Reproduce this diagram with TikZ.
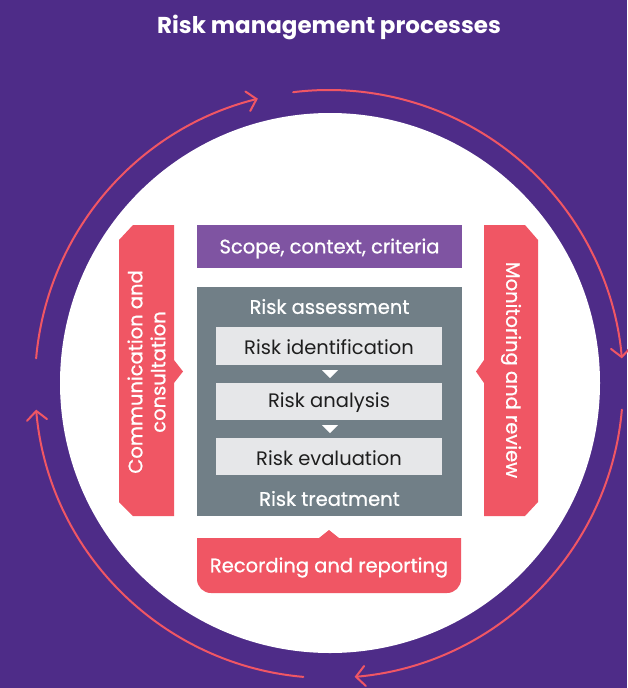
\documentclass[tikz,border=0pt]{standalone}
\usepackage{fontspec}
\setmainfont{Poppins}
\newfontfamily\medfont[FakeBold=0.8]{Poppins}
\usetikzlibrary{arrows.meta}
\definecolor{bgpurple}{RGB}{78,44,136}
\definecolor{scopepurple}{RGB}{127,84,162}
\definecolor{riskgray}{RGB}{113,127,135}
\definecolor{stepgray}{RGB}{230,231,233}
\definecolor{coral}{RGB}{240,86,100}
\definecolor{darktext}{RGB}{30,30,30}
\tikzset{
  ring/.style={coral,line width=2pt,line cap=round,-{Straight Barb[length=9pt,width=20pt,line cap=round]}},
  label/.style={text=white,font=\medfont\fontsize{19.5}{23}\selectfont,inner sep=0pt},
  steptext/.style={text=darktext,font=\fontsize{19.5}{23}\selectfont,inner sep=0pt},
  stepbox/.style={fill=stepgray}
}
\begin{document}
\begin{tikzpicture}[x=1pt,y=-1pt]
		% BACKGROUND AND CIRCLE
		\fill [bgpurple] (0,0) rectangle (627,688);
		\useasboundingbox (0,0) rectangle (627,688);
		\fill [white] (330,383) circle [radius=270];
		\node [text=white,font=\fontsize{23}{27}\selectfont\bfseries] (title) at (329,27) {Risk management processes};
		% ARROW RING
		\begin{scope}[shift={(329,384)},yscale=-1]
		\draw [ring] (97:294) arc [start angle=97,end angle=5,radius=294];
		\draw [ring] (-5:294) arc [start angle=-5,end angle=-85,radius=294];
		\draw [ring] (265:294) arc [start angle=265,end angle=185,radius=294];
		\draw [ring] (175:294) arc [start angle=175,end angle=104,radius=294];
		\end{scope}
		% SCOPE AND ASSESSMENT
		\fill [scopepurple] (197,225) rectangle (462,268);
		\node [label] (scope) at (329.5,248.5) {Scope, context, criteria};
		\fill [riskgray] (197,287) rectangle (462,516);
		\node [label] (assess) at (329.5,306.5) {Risk assessment};
		\node [label] (treat) at (329.5,498.5) {Risk treatment};
		\fill [stepbox] (216,327) rectangle (442,365);
		\fill [stepbox] (216,383) rectangle (442,420);
		\fill [stepbox] (216,438) rectangle (442,475);
		\node [steptext] (ident) at (329,347.5) {Risk identification};
		\node [steptext] (analysis) at (329,403) {Risk analysis};
		\node [steptext] (eval) at (329,458) {Risk evaluation};
		\fill [white] (322,370) -- (338,370) -- (330,378) -- cycle;
		\fill [white] (322,425) -- (338,425) -- (330,433) -- cycle;
		% SIDE AND BOTTOM BANNERS
		\fill [coral] (133,225) -- (174,225) -- (174,360) -- (183,371.5) -- (174,383) -- (174,516) -- (133,516) -- (119,502) -- (119,240) -- cycle;
		\node [label,rotate=90,align=center] (comm) at (146.5,372) {Communication and\\consultation};
		\fill [coral] (484,225) -- (525,225) -- (538,240) -- (538,502) -- (525,516) -- (484,516) -- (484,383) -- (476,371.5) -- (484,360) -- cycle;
		\node [label,rotate=-90] (monitor) at (511,370) {Monitoring and review};
		\fill [coral] (197,538) -- (319,538) -- (329,530) -- (339,538) -- (461,538) [rounded corners=14pt] -- (461,593) -- (197,593) [sharp corners] -- cycle;
		\node [label] (record) at (329,567.5) {Recording and reporting};
		\end{tikzpicture}
\end{document}
